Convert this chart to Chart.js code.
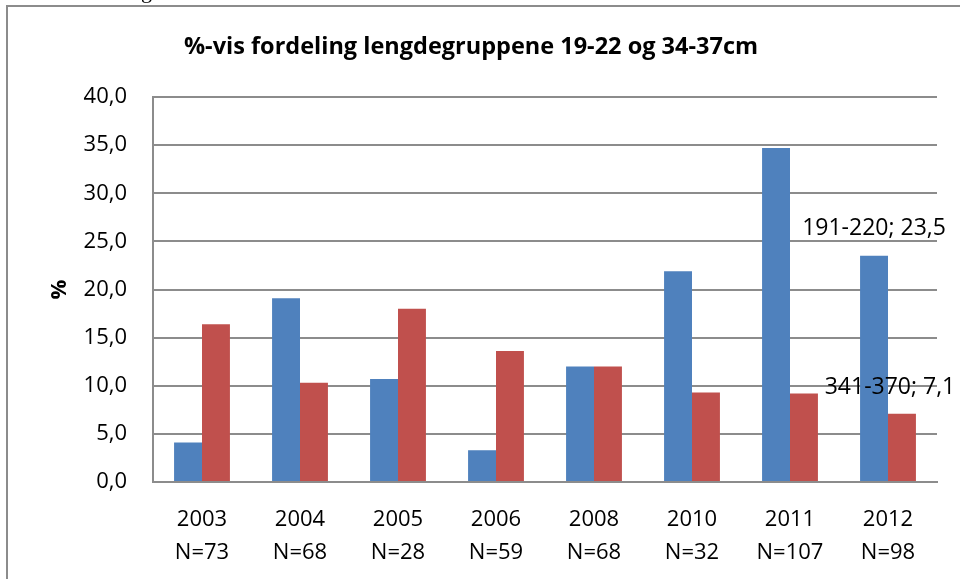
<!DOCTYPE html>
<html>
<head>
<meta charset="utf-8">
<script src="https://cdn.jsdelivr.net/npm/chart.js@4"></script>
<style>
  html, body { margin: 0; padding: 0; background: #fff; }
  canvas { display: block; }
</style>
</head>
<body>
<canvas id="myChart" width="960" height="579"></canvas>
<script>
const years = ['2003', '2004', '2005', '2006', '2008', '2010', '2011', '2012'];
const counts = ['N=73', 'N=68', 'N=28', 'N=59', 'N=68', 'N=32', 'N=107', 'N=98'];
const small = [4.1, 19.1, 10.7, 3.3, 12.0, 21.9, 34.7, 23.5];   // 191-220
const large = [16.4, 10.3, 18.0, 13.6, 12.0, 9.3, 9.2, 7.1];    // 341-370
const seriesNames = ['191-220', '341-370'];
const yTicks = [0, 5, 10, 15, 20, 25, 30, 35, 40];

const FONT = "'Open Sans', sans-serif";
const fmt = v => v.toFixed(1).replace('.', ',');

// title, axis title, outer frame and the two value labels on 2012
const extras = {
  id: 'extras',
  beforeDraw(chart) {
    const c = chart.ctx;
    c.save();
    c.strokeStyle = '#8c8c8c';
    c.lineWidth = 2;
    c.strokeRect(7, 6, 1000, 700);
    c.fillStyle = '#000';
    c.font = "22px 'Liberation Serif'";
    c.textAlign = 'left';
    c.textBaseline = 'alphabetic';
    c.fillText('g', 141, -2);
    c.restore();
  },
  afterDraw(chart) {
    const c = chart.ctx;
    c.save();
    c.fillStyle = '#000';
    c.textAlign = 'center';
    c.textBaseline = 'middle';
    c.font = 'bold 23.5px ' + FONT;
    c.fillText('%-vis fordeling lengdegruppene 19-22 og 34-37cm', 471, 47);

    c.save();
    c.translate(60, chart.chartArea.top + (chart.chartArea.bottom - chart.chartArea.top) / 2);
    c.rotate(-Math.PI / 2);
    c.font = 'bold 22px ' + FONT;
    c.fillText('%', 0, 0);
    c.restore();

    c.font = '23px ' + FONT;
    const last = years.length - 1;
    const b0 = chart.getDatasetMeta(0).data[last];
    const b1 = chart.getDatasetMeta(1).data[last];
    c.fillText(seriesNames[0] + '; ' + fmt(small[last]), b0.x, b0.y - 27);
    c.fillText(seriesNames[1] + '; ' + fmt(large[last]), b1.x - 12, b1.y - 26);
    c.restore();
  }
};

const ctx = document.getElementById('myChart').getContext('2d');

const chart = new Chart(ctx, {
  type: 'bar',
  data: {
    labels: years.map((y, i) => [y, counts[i]]),
    datasets: [
      { label: seriesNames[0], data: small, backgroundColor: '#4F81BD' },
      { label: seriesNames[1], data: large, backgroundColor: '#C0504D' }
    ]
  },
  options: {
    responsive: false,
    animation: false,
    layout: { padding: { top: 97, right: 23, left: 0, bottom: 0 } },
    plugins: { legend: { display: false }, tooltip: { enabled: false } },
    datasets: { bar: { barPercentage: 1, categoryPercentage: 0.57 } },
    scales: {
      x: {
        grid: { display: false, drawTicks: false },
        border: { color: '#8c8c8c', width: 2 },
        ticks: {
          color: '#000',
          font: { family: FONT, size: 22, lineHeight: 33 / 22 },
          padding: 21,
          maxRotation: 0,
          autoSkip: false
        },
        afterFit(s) { s.height = 97; }
      },
      y: {
        min: 0,
        max: 40,
        afterBuildTicks(s) { s.ticks = yTicks.map(v => ({ value: v })); },
        grid: { color: '#8c8c8c', lineWidth: 2, drawTicks: false },
        border: { color: '#8c8c8c', width: 2 },
        ticks: {
          color: '#000',
          font: { family: FONT, size: 22 },
          padding: 26,
          callback: v => fmt(v)
        },
        afterFit(s) { s.width = 153; }
      }
    }
  },
  plugins: [extras]
});
</script>
</body>
</html>
